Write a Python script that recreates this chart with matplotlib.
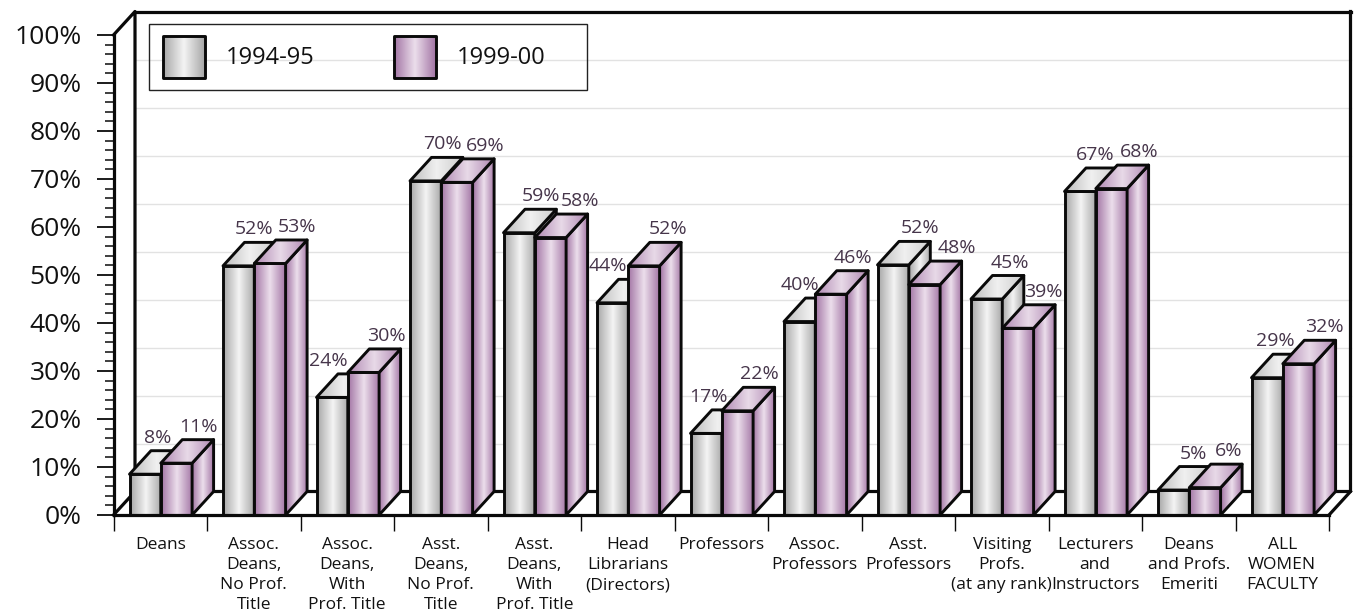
import numpy as np
import matplotlib
matplotlib.use("Agg")
import matplotlib.pyplot as plt
from matplotlib.colors import LinearSegmentedColormap
from matplotlib.patches import Polygon, Rectangle
from matplotlib.ticker import MultipleLocator, FixedLocator, NullFormatter, FixedFormatter

categories = ["Deans", "Assoc.\nDeans,\nNo Prof.\nTitle", "Assoc.\nDeans,\nWith\nProf. Title",
              "Asst.\nDeans,\nNo Prof.\nTitle", "Asst.\nDeans,\nWith\nProf. Title",
              "Head\nLibrarians\n(Directors)", "Professors", "Assoc.\nProfessors", "Asst.\nProfessors",
              "Visiting\nProfs.\n(at any rank)", "Lecturers\nand\nInstructors",
              "Deans\nand Profs.\nEmeriti", "ALL\nWOMEN\nFACULTY"]
series_names = ["1994-95", "1999-00"]
# bar heights
heights_9495 = [8.5, 51.9, 24.5, 69.6, 58.8, 44.2, 17.0, 40.3, 52.1, 45.0, 67.4, 5.2, 28.6]
heights_9900 = [10.8, 52.4, 29.7, 69.3, 57.8, 51.9, 21.7, 46.0, 48.0, 38.9, 68.0, 5.7, 31.5]
# values as printed on the bars
labels_9495 = [8, 52, 24, 70, 59, 44, 17, 40, 52, 45, 67, 5, 29]
labels_9900 = [11, 53, 30, 69, 58, 52, 22, 46, 48, 39, 68, 6, 32]
y_ticks = list(range(0, 101, 10))

# label nudges in pixels (layout only)
nudge_9495 = [-9, -6, -25, -5, 0, -26, -19, -21, 5, 2, -6, -2, -13]
nudge_9900 = [0, 6, 1, 7, 8, 3, 0, 0, 11, 4, 6, 2, 4]

W, H = 1357, 616
L, R, T, B = 113.5, 1329.0, 35.0, 515.0
PX_X = (R - L) / 13
PX_Y = (B - T) / 100
DX = 21.5 / PX_X
DY = 23.5 / PX_Y
BAR = 31.3 / PX_X
OFF = 16.0 / PX_X

plt.rcParams['font.family'] = ['Open Sans', 'DejaVu Sans']
fig = plt.figure(figsize=(W / 100, H / 100), dpi=100, facecolor='white')
ax = fig.add_axes([L / W, 1 - B / H, (R - L) / W, (B - T) / H])
ax.patch.set_visible(False)
ax.set_xlim(0, 13)
ax.set_ylim(0, 100)

INK = '#0a0a0a'
gray_cm = LinearSegmentedColormap.from_list('g', ['#a6a6a6', '#f4f4f4', '#a6a6a6'])
purple_cm = LinearSegmentedColormap.from_list('p', ['#a274a4', '#ecdfec', '#a274a4'])
gray_top = LinearSegmentedColormap.from_list('gt', ['#bdbdbd', '#f0f0f0', '#cdcdcd'])
purple_top = LinearSegmentedColormap.from_list('pt', ['#b088b2', '#e8dae8', '#b088b2'])
grad = np.linspace(0, 1, 128).reshape(1, -1)
zcount = [5.0]


def face(pts, cmap):
    pts = np.array(pts, float)
    z = zcount[0]
    zcount[0] += 0.01
    im = ax.imshow(grad, cmap=cmap, aspect='auto', interpolation='bilinear', zorder=z,
                   extent=(pts[:, 0].min(), pts[:, 0].max(), pts[:, 1].min(), pts[:, 1].max()))
    poly = Polygon(pts, closed=True, transform=ax.transData, fill=False, edgecolor=INK,
                   linewidth=2.1, joinstyle='round', clip_on=False, zorder=z + 0.005)
    ax.add_patch(poly)
    im.set_clip_box(fig.bbox)
    im.set_clip_path(poly)


def bar3d(x0, v, cmap, top_cmap):
    x1 = x0 + BAR
    face([(x0, 0), (x1, 0), (x1, v), (x0, v)], cmap)
    face([(x1, 0), (x1 + DX, DY), (x1 + DX, v + DY), (x1, v)], cmap)
    face([(x0, v), (x1, v), (x1 + DX, v + DY), (x0 + DX, v + DY)], top_cmap)


# back wall and floor
for g in y_ticks[1:-1]:
    ax.plot([DX, 13 + DX], [g + DY, g + DY], color='#e2e2e2', lw=1.0, clip_on=False, zorder=1)
wall = dict(color=INK, lw=2.3, clip_on=False, zorder=2, solid_capstyle='projecting')
ax.plot([0, DX, DX, 13 + DX, 13 + DX], [100, 100 + DY, DY, DY, 100 + DY], **wall)
ax.plot([DX, 13 + DX], [100 + DY, 100 + DY], **wall)
ax.plot([0, DX], [0, DY], **wall)
ax.plot([13, 13 + DX], [0, DY], **wall)

# bars
for i, (a, b) in enumerate(zip(heights_9495, heights_9900)):
    bar3d(i + OFF, a, gray_cm, gray_top)
    bar3d(i + OFF + BAR, b, purple_cm, purple_top)

# value labels
rows = ((heights_9495, labels_9495, nudge_9495, 0), (heights_9900, labels_9900, nudge_9900, 1))
for hs, ls, ns, k in rows:
    for i, (v, s, n) in enumerate(zip(hs, ls, ns)):
        ax.text(i + OFF + k * BAR + BAR / 2 + DX + n / PX_X, v + DY + 13 / PX_Y, f"{s}%",
                ha='center', va='center', fontsize=14, color='#46354a', zorder=20, clip_on=False)

# axes
for s in ('top', 'right'):
    ax.spines[s].set_visible(False)
for s in ('left', 'bottom'):
    ax.spines[s].set_linewidth(2.3)
    ax.spines[s].set_color(INK)
    ax.spines[s].set_zorder(15)
ax.yaxis.set_major_locator(FixedLocator(y_ticks))
ax.yaxis.set_major_formatter(FixedFormatter([f"{t}%" for t in y_ticks]))
ax.yaxis.set_minor_locator(MultipleLocator(2))
ax.tick_params(axis='y', which='major', length=12, width=1.3, labelsize=19, pad=11, color=INK, labelcolor='#111111')
ax.tick_params(axis='y', which='minor', length=6.5, width=1.1, color=INK)
ax.xaxis.set_major_locator(FixedLocator(np.arange(14)))
ax.xaxis.set_major_formatter(NullFormatter())
ax.xaxis.set_minor_locator(FixedLocator(np.arange(13) + 0.5))
ax.xaxis.set_minor_formatter(FixedFormatter(categories))
ax.tick_params(axis='x', which='major', length=11.5, width=1.0, color=INK)
ax.tick_params(axis='x', which='minor', length=0, labelsize=12.5, pad=16, labelcolor='#111111')
for t in ax.get_xticklabels(minor=True):
    t.set_linespacing(1.33)
    t.set_va('top')


# legend
def px(x, y):
    return (x - L) / PX_X, (B - y) / PX_Y


x0, y0 = px(149, 90)
x1, y1 = px(587, 24)
ax.add_patch(Rectangle((x0, y0), x1 - x0, y1 - y0, fill=False, edgecolor='#222222', lw=1.0,
                       clip_on=False, zorder=3))
for name, sx, cm in ((series_names[0], 163, gray_cm), (series_names[1], 394, purple_cm)):
    a, b = px(sx, 78)
    c, d = px(sx + 42, 36)
    face([(a, b), (c, b), (c, d), (a, d)], cm)
    tx, ty = px(sx + 63, 57.5)
    ax.text(tx, ty, name, ha='left', va='center', fontsize=17, color='#111111', clip_on=False, zorder=20)

ax.set_xlim(0, 13)
ax.set_ylim(0, 100)
fig.savefig('out.png', dpi=100, facecolor='white')
